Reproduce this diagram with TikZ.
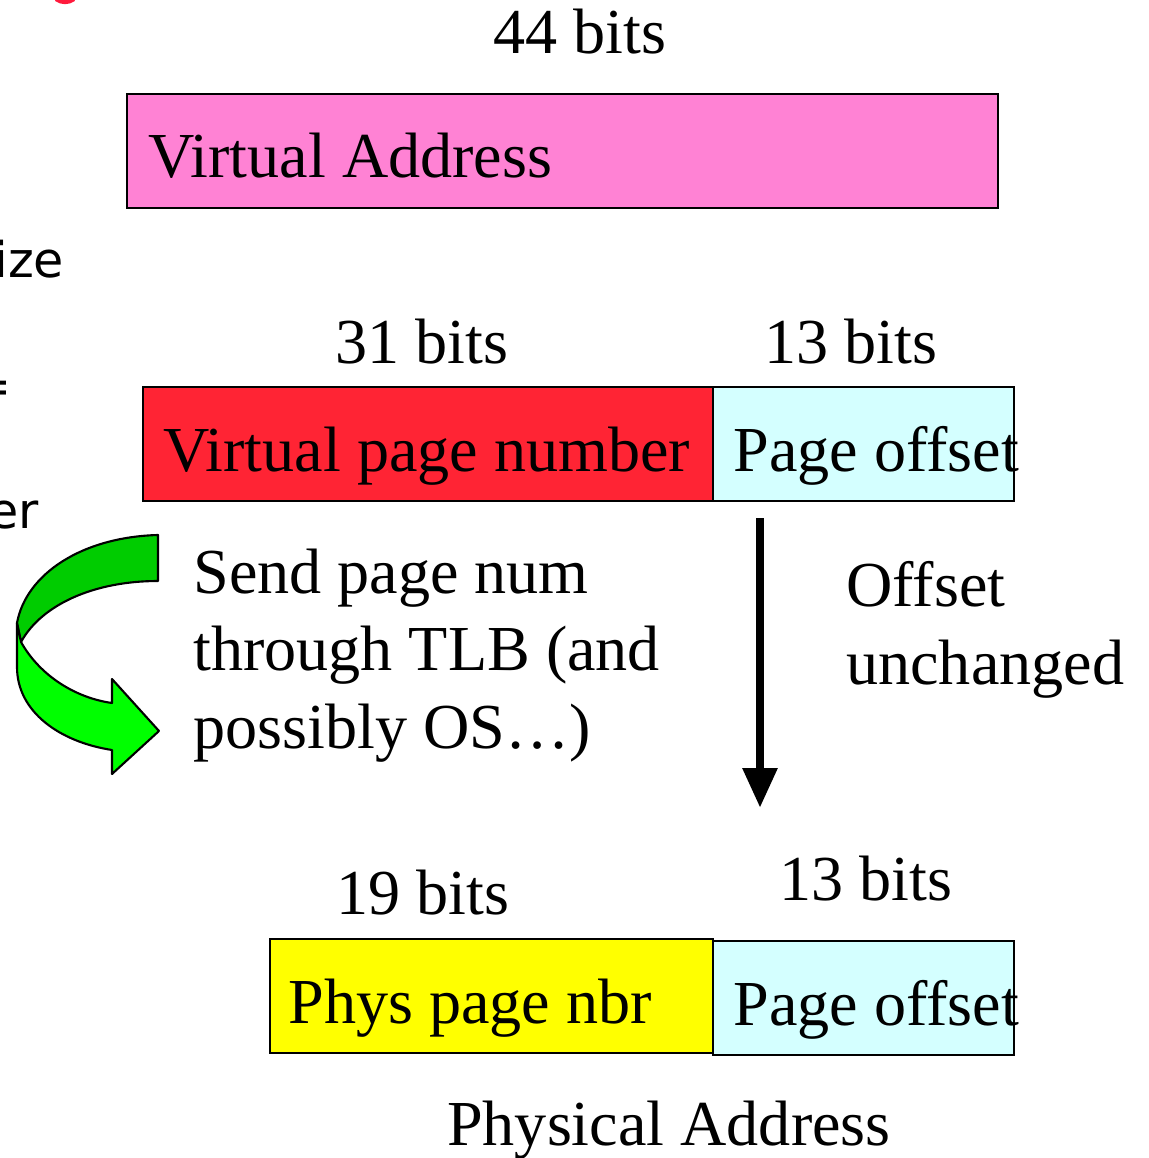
\documentclass[tikz,border=0pt]{standalone}
\usepackage{fontspec}
\setmainfont{Liberation Serif}
\newfontfamily\slidesans{DejaVu Sans}
\usetikzlibrary{arrows.meta,positioning}
\definecolor{vapink}{HTML}{FF82D4}
\definecolor{vpnred}{HTML}{FF2434}
\definecolor{offcyan}{HTML}{D4FFFF}
\definecolor{ppnyellow}{HTML}{FFFF00}
\definecolor{ribbondark}{HTML}{00CC00}
\definecolor{ribbonlight}{HTML}{00FF00}
\definecolor{titlered}{HTML}{FF1A3C}

\begin{document}
\begin{tikzpicture}[
    x=0.02cm, y=-0.02cm,
    font=\fontsize{36.5}{44}\selectfont,
    field/.style={
        rectangle,
        draw=black,
        line width=1.3pt,
        inner sep=0pt,
        outer sep=0pt,
        minimum height=2.28cm,
        fill=#1
    },
    fieldtext/.style={
        anchor=base west,
        inner sep=0pt
    },
    bits/.style={
        anchor=base,
        inner sep=0pt
    },
    explain/.style={
        anchor=base west,
        align=left,
        inner sep=0pt
    },
    cutoff/.style={
        font=\slidesans\fontsize{28}{34}\selectfont,
        inner sep=0pt
    },
    keeparrow/.style={
        -{Triangle[length=0.8cm,width=0.66cm]},
        line width=5pt
    },
    ribbon/.style={
        draw=black,
        line width=1.2pt,
        line join=round,
        fill=#1
    }
]

\useasboundingbox (0,0) rectangle (1148,1158);
\clip (0,0) rectangle (1148,1158);

% pieces of the slide text cut off at the left edge
\draw[titlered, line width=2.5pt] (56,-1) .. controls (62,3) and (68,3) .. (74,-1);
\node[cutoff, anchor=base west] (frag1) at (-6,278) {ize};
\node[cutoff, anchor=base east] (frag2) at (12,403) {=};
\node[cutoff, anchor=base west] (frag3) at (-12,528) {er};

% virtual address
\node[bits] (vabits) at (580,54) {44 bits};
\node[field=vapink, minimum width=17.42cm] (va) at (562.5,151) {};
\node[fieldtext] (vatext) at (148,178) {Virtual Address};

% split into page number and offset
\node[bits] (vpnbits) at (422,363) {31 bits};
\node[bits] (voffbits) at (851,363) {13 bits};
\node[field=vpnred, minimum width=11.4cm] (vpn) at (428,444) {};
\node[field=offcyan, minimum width=6.02cm, right=0pt of vpn] (voff) {};
\node[fieldtext] (vpntext) at (163,471) {Virtual page number};
\node[fieldtext] (vofftext) at (733,471) {Page offset};

% translation through the TLB
\path[ribbon=ribbondark]
    (158,535) .. controls (82,537) and (26,574) .. (17,623)
    -- (21,642) .. controls (42,604) and (95,581) .. (158,581) -- cycle;
\path[ribbon=ribbonlight]
    (17,623) -- (21,642) .. controls (40,676) and (76,698) .. (112,703)
    -- (112,679) -- (159,731) -- (112,774) -- (112,750)
    .. controls (60,742) and (17,712) .. (17,667) -- cycle;
\node[explain] (tlbnote) at (193,748)
    {Send page num\\through TLB (and\\possibly OS\ldots)};

% offset copied straight down
\coordinate (offtop) at (760,518);
\coordinate (offbot) at (760,808);
\draw[keeparrow] (offtop) -- (offbot);
\node[explain] (offnote) at (846,684) {Offset\\unchanged};

% physical address
\node[bits] (ppnbits) at (423,914) {19 bits};
\node[bits] (poffbits) at (866,900) {13 bits};
\node[field=ppnyellow, minimum width=8.86cm] (ppn) at (491.5,996) {};
\node[field=offcyan, minimum width=6.02cm] (poff) at (863.5,998) {};
\node[fieldtext] (ppntext) at (288,1023) {Phys page nbr};
\node[fieldtext] (pofftext) at (733,1025) {Page offset};
\node[bits] (pacaption) at (669,1145) {Physical Address};

\end{tikzpicture}
\end{document}
